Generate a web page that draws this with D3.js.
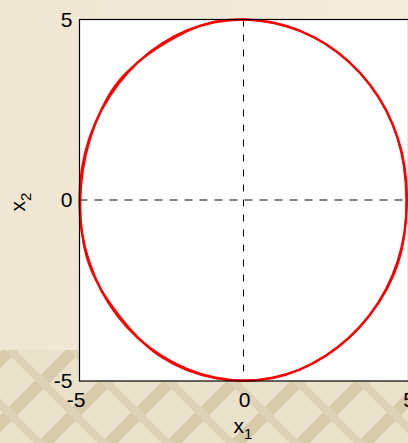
<!DOCTYPE html>
<meta charset="utf-8">
<style>
    body { margin: 0; background: #f2eadb; }
    svg { display: block; }
    text { font-family: "Liberation Sans", Arial, sans-serif; }
    .axis text { font-size: 21px; fill: #000; }
    .axis .domain { display: none; }
</style>
<svg id="chart" width="408" height="443"></svg>
<script src="https://d3js.org/d3.v7.min.js"></script>
<script>
    // axis ticks
    var xTicks = [-5, 0, 5];
    var yTicks = [-5, 0, 5];

    // trajectory, two overlapping laps
    var lap1X = [4.95, 4.68, 3.82, 2.48, 0.86, -0.87, -2.50, -3.83, -4.70, -5.00, -4.71, -3.84, -2.50, -0.87, 0.86, 2.48, 3.81, 4.67];
    var lap1Y = [0.00, 1.70, 3.20, 4.32, 4.92, 4.93, 4.33, 3.21, 1.71, 0.00, -1.70, -3.20, -4.31, -4.91, -4.92, -4.30, -3.19, -1.70];
    var lap2X = [4.93, 4.66, 3.85, 2.45, 0.88, -0.85, -2.47, -3.86, -4.68, -4.97, -4.73, -3.81, -2.53, -0.85, 0.88, 2.45, 3.84, 4.69];
    var lap2Y = [0.05, 1.73, 3.17, 4.34, 4.90, 4.95, 4.30, 3.24, 1.68, -0.04, -1.73, -3.17, -4.33, -4.93, -4.90, -4.33, -3.16, -1.73];

    var svg = d3.select("#chart");
    var width = 408, height = 443;

    // background: plain beige with a woven band at the bottom
    var defs = svg.append("defs");
    var grad = defs.append("linearGradient").attr("id", "bg").attr("x1", 0).attr("x2", 1);
    grad.append("stop").attr("offset", 0).attr("stop-color", "#efe6d3");
    grad.append("stop").attr("offset", 1).attr("stop-color", "#f4ecdd");
    var pat = defs.append("pattern").attr("id", "weave")
        .attr("patternUnits", "userSpaceOnUse")
        .attr("width", 64).attr("height", 64)
        .attr("x", 10).attr("y", 350);
    pat.append("rect").attr("width", 64).attr("height", 64).attr("fill", "#ebe2cc");
    pat.append("path").attr("d", "M-10,10 L10,-10 M0,64 L64,0 M54,74 L74,54")
        .attr("stroke", "#d8cbab").attr("stroke-width", 12);
    pat.append("path").attr("d", "M0,0 L64,64 M-10,54 L10,74 M54,-10 L74,10")
        .attr("stroke", "#ddd2b5").attr("stroke-width", 8);

    svg.append("rect").attr("width", width).attr("height", height).attr("fill", "url(#bg)");
    svg.append("rect").attr("y", 350).attr("width", width).attr("height", height - 350).attr("fill", "url(#weave)");

    var x = d3.scaleLinear().domain([-5, 5]).range([79.5, 408.5]);
    var y = d3.scaleLinear().domain([-5, 5]).range([381, 19.5]);

    // plot area
    svg.append("rect")
        .attr("x", x(-5)).attr("y", y(5))
        .attr("width", x(5) - x(-5)).attr("height", y(-5) - y(5))
        .attr("fill", "#fff");

    // dashed zero lines
    svg.append("line")
        .attr("x1", x(-5)).attr("x2", x(5))
        .attr("y1", Math.round(y(0))).attr("y2", Math.round(y(0)))
        .attr("stroke", "#000").attr("stroke-dasharray", "8,7");
    svg.append("line")
        .attr("x1", Math.floor(x(0)) - 0.5).attr("x2", Math.floor(x(0)) - 0.5)
        .attr("y1", y(5)).attr("y2", y(-5))
        .attr("stroke", "#000").attr("stroke-dasharray", "7,8");

    var line = d3.line()
        .x(function (d) { return x(d[0]); })
        .y(function (d) { return y(d[1]); })
        .curve(d3.curveCatmullRomClosed);

    var lap1 = d3.zip(lap1X, lap1Y);
    var lap2 = d3.zip(lap2X, lap2Y);

    svg.append("path").datum(lap1)
        .attr("d", line).attr("fill", "none")
        .attr("stroke", "#ff0000").attr("stroke-width", 2.4);
    svg.append("path").datum(lap2)
        .attr("d", line).attr("fill", "none")
        .attr("stroke", "#ff0000").attr("stroke-width", 1.8);

    // box
    svg.append("rect")
        .attr("x", x(-5)).attr("y", y(5))
        .attr("width", x(5) - x(-5)).attr("height", y(-5) - y(5))
        .attr("fill", "none").attr("stroke", "#000").attr("stroke-width", 1.2);

    // tick labels
    svg.append("g").attr("class", "axis")
        .attr("transform", "translate(" + x(-5) + ",0)")
        .call(d3.axisLeft(y).tickValues(yTicks).tickSize(0).tickPadding(7).tickFormat(d3.format("d")));
    var xAxis = svg.append("g").attr("class", "axis")
        .attr("transform", "translate(0," + y(-5) + ")")
        .call(d3.axisBottom(x).tickValues(xTicks).tickSize(0).tickPadding(11).tickFormat(d3.format("d")));
    svg.selectAll(".axis text").text(function (d) { return d < 0 ? "-" + Math.abs(d) : d; });
    xAxis.selectAll("text").attr("dx", function (d) { return d < 0 ? -4 : 0; });

    // axis titles
    var xl = svg.append("text").attr("x", 243).attr("y", 433)
        .attr("text-anchor", "middle").attr("font-size", 21);
    xl.append("tspan").text("x");
    xl.append("tspan").attr("dy", 6).attr("font-size", 15).text("1");

    var yl = svg.append("text").attr("transform", "translate(25,202) rotate(-90)")
        .attr("text-anchor", "middle").attr("font-size", 21);
    yl.append("tspan").text("x");
    yl.append("tspan").attr("dy", 6).attr("font-size", 15).text("2");
</script>
